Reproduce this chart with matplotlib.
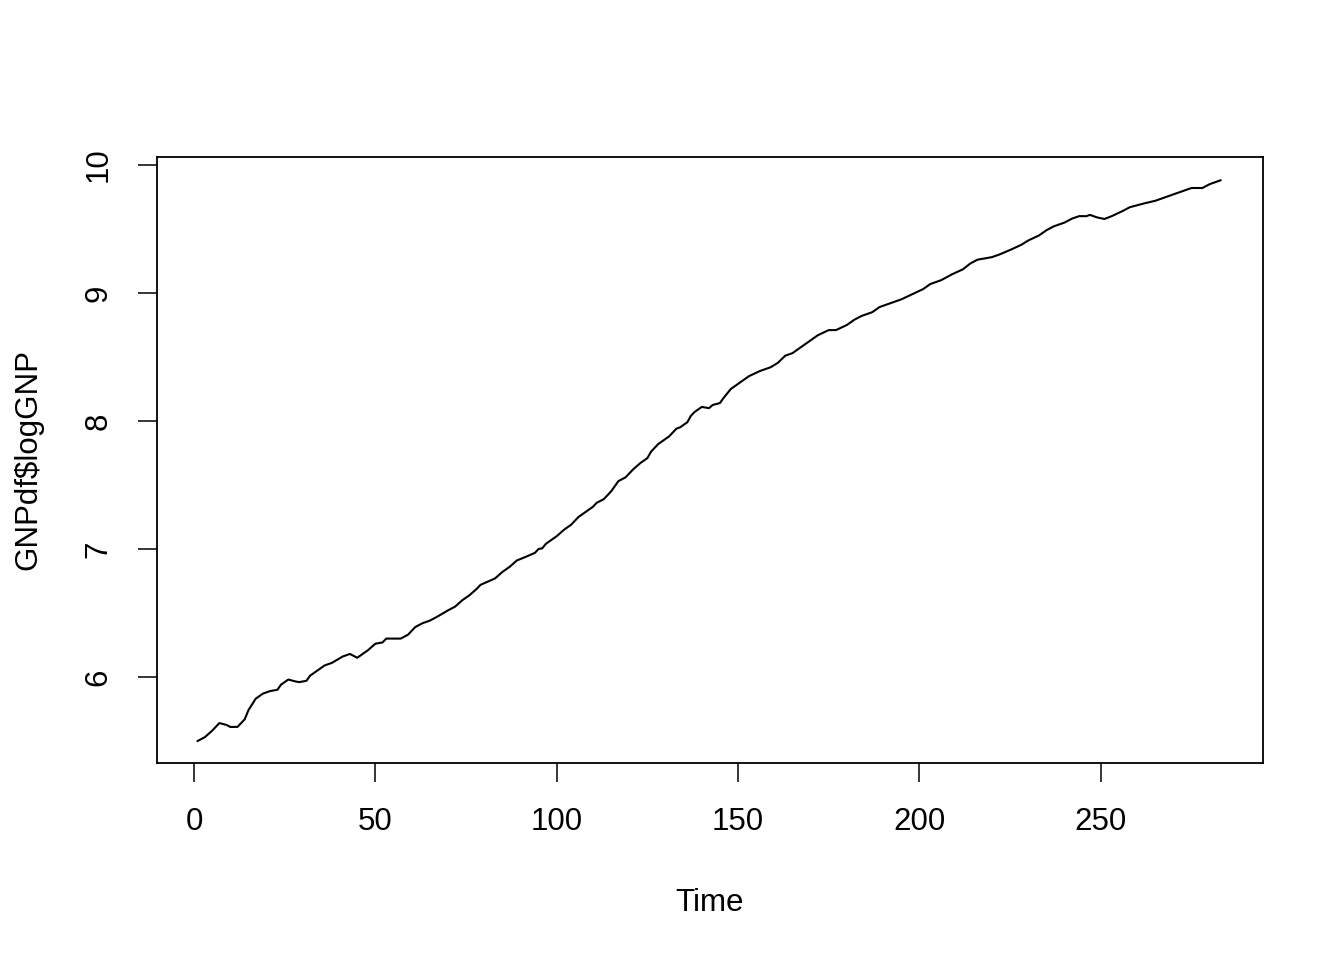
import matplotlib.pyplot as plt

# values (time index, log GNP)
time = [1, 3, 5, 7, 9, 10, 12, 14, 15, 17, 19, 21, 23, 24, 26, 28, 29, 31, 32, 34,
        36, 38, 41, 43, 45, 48, 50, 52, 53, 55, 57, 59, 61, 63, 65, 67, 70, 72, 74, 76,
        78, 79, 81, 83, 85, 87, 89, 92, 94, 95, 96, 97, 99, 100, 102, 104, 106, 108, 110, 111,
        113, 115, 117, 119, 121, 123, 125, 126, 128, 131, 133, 134, 136, 137, 138, 140, 142, 143, 145, 146,
        148, 151, 153, 156, 159, 161, 163, 165, 167, 170, 172, 175, 177, 180, 182, 184, 187, 189, 192, 195,
        198, 201, 203, 206, 209, 212, 214, 216, 218, 220, 222, 225, 228, 230, 233, 235, 237, 240, 242, 244,
        246, 247, 249, 251, 253, 256, 258, 262, 265, 268, 270, 272, 275, 278, 280, 283]
log_gnp = [5.50, 5.53, 5.58, 5.64, 5.625, 5.61, 5.61, 5.67, 5.74, 5.83, 5.87, 5.89, 5.90, 5.94, 5.98, 5.965, 5.96, 5.97, 6.01, 6.05,
           6.09, 6.11, 6.16, 6.18, 6.15, 6.21, 6.26, 6.27, 6.30, 6.30, 6.30, 6.33, 6.39, 6.42, 6.44, 6.47, 6.52, 6.55, 6.60, 6.64,
           6.69, 6.72, 6.745, 6.77, 6.82, 6.86, 6.91, 6.945, 6.97, 7.00, 7.005, 7.04, 7.08, 7.10, 7.15, 7.19, 7.25, 7.29, 7.33, 7.36,
           7.39, 7.45, 7.53, 7.56, 7.62, 7.67, 7.71, 7.76, 7.82, 7.88, 7.94, 7.95, 7.99, 8.04, 8.07, 8.11, 8.10, 8.125, 8.14, 8.18,
           8.25, 8.31, 8.35, 8.39, 8.42, 8.455, 8.51, 8.53, 8.57, 8.63, 8.67, 8.71, 8.71, 8.75, 8.79, 8.82, 8.85, 8.89, 8.92, 8.95,
           8.99, 9.03, 9.07, 9.10, 9.146, 9.185, 9.23, 9.26, 9.27, 9.28, 9.30, 9.336, 9.375, 9.41, 9.45, 9.49, 9.52, 9.55, 9.58, 9.60,
           9.60, 9.61, 9.59, 9.578, 9.60, 9.64, 9.67, 9.70, 9.72, 9.75, 9.77, 9.79, 9.82, 9.82, 9.85, 9.88]

xticks = [0, 50, 100, 150, 200, 250]
yticks = [6, 7, 8, 9, 10]

plt.rcParams['font.family'] = ['Liberation Sans', 'DejaVu Sans']

fig = plt.figure(figsize=(13.44, 9.6), dpi=100)
ax = fig.add_axes([0.1168, 0.2052, 0.8229, 0.6313])

ax.plot(time, log_gnp, color="black", linewidth=1.5)

ax.set_xlim(-10.2, 294.7)
ax.set_ylim(5.328, 10.0625)
ax.set_xticks(xticks)
ax.set_yticks(yticks)
ax.set_yticklabels([str(v) for v in yticks], rotation=90, va="center")

for side in ax.spines.values():
    side.set_linewidth(1.3)
ax.tick_params(direction="out", length=13.5, width=1.1, labelsize=22.5, pad=18)

ax.set_xlabel("Time", fontsize=22.5, labelpad=37)
ax.set_ylabel("GNPdf$logGNP", fontsize=22.5, labelpad=29)

fig.savefig("out.png", dpi=100)
